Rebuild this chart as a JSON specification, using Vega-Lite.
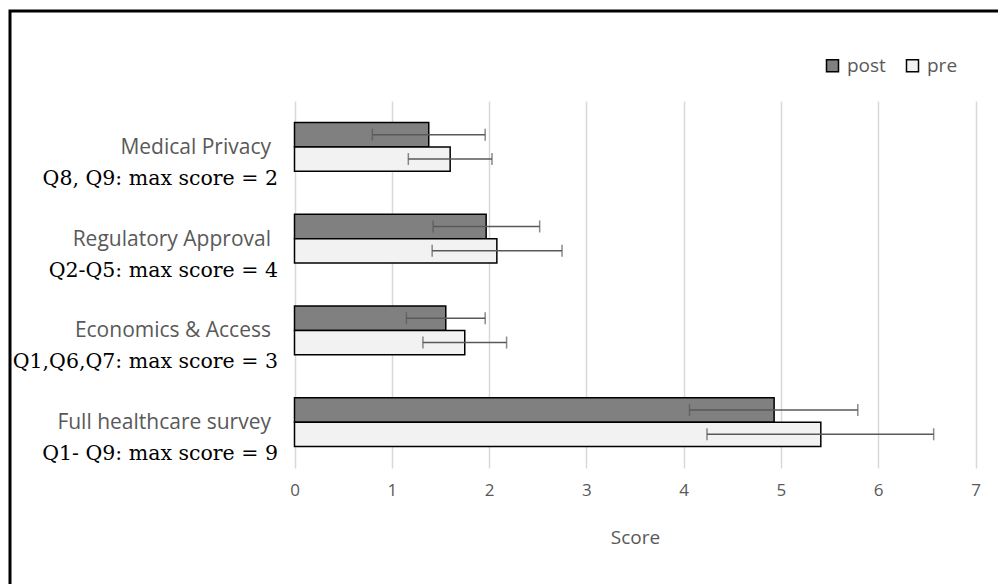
{
  "$schema": "https://vega.github.io/schema/vega-lite/v6.json",
  "autosize": {"type": "none"},
  "padding": {"left": 10, "top": 11, "right": -6, "bottom": -6},
  "width": 994,
  "height": 579,
  "background": "white",
  "config": {
    "view": {"stroke": "black", "strokeWidth": 3},
    "font": "Open Sans"
  },
  "data": {
    "values": [
      {"category": "Medical Privacy", "group": "post", "mean": 1.38, "lo": 0.80, "hi": 1.96},
      {"category": "Medical Privacy", "group": "pre", "mean": 1.60, "lo": 1.17, "hi": 2.03},
      {"category": "Regulatory Approval", "group": "post", "mean": 1.97, "lo": 1.425, "hi": 2.52},
      {"category": "Regulatory Approval", "group": "pre", "mean": 2.08, "lo": 1.415, "hi": 2.75},
      {"category": "Economics & Access", "group": "post", "mean": 1.555, "lo": 1.15, "hi": 1.96},
      {"category": "Economics & Access", "group": "pre", "mean": 1.75, "lo": 1.32, "hi": 2.18},
      {"category": "Full healthcare survey", "group": "post", "mean": 4.93, "lo": 4.06, "hi": 5.79},
      {"category": "Full healthcare survey", "group": "pre", "mean": 5.41, "lo": 4.24, "hi": 6.57}
    ]
  },
  "layer": [
    {
      "mark": {"type": "bar", "stroke": "black", "strokeWidth": 1.5},
      "encoding": {
        "x": {
          "field": "mean", "type": "quantitative", "title": "Score",
          "scale": {"domain": [0, 7], "nice": false, "zero": true, "range": [284.5, 965.5]},
          "axis": {
            "orient": "bottom", "zindex": 0,
            "titleFont": "Open Sans", "titleFontSize": 19, "titleFontWeight": "normal",
            "titleColor": "#595959", "titlePadding": 30,
            "labelFont": "Open Sans", "labelFontSize": 17, "labelColor": "#595959", "labelPadding": 14,
            "domain": false, "ticks": false, "tickSize": 0, "offset": -122, "grid": false,
            "values": [0, 1, 2, 3, 4, 5, 6, 7], "labelFlush": false, "labelOverlap": false
          }
        },
        "y": {
          "field": "category", "type": "nominal", "sort": null,
          "scale": {"range": [90, 457], "paddingInner": 0.47, "paddingOuter": 0.235},
          "axis": {
            "title": null, "orient": "left", "domain": false, "ticks": false, "tickSize": 0, "offset": -284.5,
            "labelFont": "Open Sans", "labelFontSize": 21, "labelColor": "#595959", "labelPadding": 24,
            "labelLimit": 300, "labelOverlap": false, "labelBaseline": "middle", "labelOffset": 1, "grid": false
          }
        },
        "yOffset": {"field": "group", "type": "nominal", "sort": ["post", "pre"], "scale": {"paddingInner": 0, "paddingOuter": 0}},
        "fill": {
          "field": "group", "type": "nominal", "sort": ["post", "pre"],
          "scale": {"domain": ["post", "pre"], "range": ["#808080", "#f2f2f2"]},
          "legend": {
            "orient": "none", "legendX": 813, "legendY": 45, "direction": "horizontal", "title": null,
            "symbolType": "square", "symbolSize": 144, "symbolStrokeColor": "black", "symbolStrokeWidth": 1.5,
            "symbolOpacity": 1, "labelFont": "Open Sans", "labelFontSize": 19, "labelColor": "#595959",
            "labelOffset": 5, "columnPadding": 17, "padding": 0
          }
        }
      }
    },
    {
      "mark": {"type": "rule", "color": "#595959", "strokeWidth": 1.5},
      "encoding": {
        "x": {
          "field": "lo", "type": "quantitative", "title": "Score",
          "axis": {
            "orient": "top", "zindex": 0, "title": null, "labels": false, "domain": false, "grid": false,
            "ticks": true, "tickSize": -367, "tickColor": "#d9d9d9", "tickWidth": 1.5, "offset": -90,
            "values": [0, 1, 2, 3, 4, 5, 6, 7]
          }
        },
        "x2": {"field": "hi"},
        "y": {
          "field": "category", "type": "nominal", "sort": null,
          "axis": {
            "title": null, "orient": "left", "domain": false, "ticks": false, "tickSize": 0, "offset": -284.5,
            "labelFont": "DejaVu Serif", "labelFontSize": 20.5, "labelColor": "black", "labelPadding": 17,
            "labelOffset": 32, "labelLimit": 400, "labelOverlap": false, "labelBaseline": "middle", "grid": false,
            "labelExpr": "datum.value == 'Medical Privacy' ? 'Q8, Q9: max score = 2' : datum.value == 'Regulatory Approval' ? 'Q2-Q5: max score = 4' : datum.value == 'Economics & Access' ? 'Q1,Q6,Q7: max score = 3' : 'Q1- Q9: max score = 9'"
          }
        },
        "yOffset": {"field": "group", "type": "nominal", "sort": ["post", "pre"]}
      }
    },
    {
      "mark": {"type": "tick", "color": "#595959", "thickness": 1.5, "size": 12, "orient": "vertical"},
      "encoding": {
        "x": {"field": "lo", "type": "quantitative", "axis": null},
        "y": {"field": "category", "type": "nominal", "sort": null, "axis": null},
        "yOffset": {"field": "group", "type": "nominal", "sort": ["post", "pre"]}
      }
    },
    {
      "mark": {"type": "tick", "color": "#595959", "thickness": 1.5, "size": 12, "orient": "vertical"},
      "encoding": {
        "x": {"field": "hi", "type": "quantitative", "axis": null},
        "y": {"field": "category", "type": "nominal", "sort": null, "axis": null},
        "yOffset": {"field": "group", "type": "nominal", "sort": ["post", "pre"]}
      }
    }
  ],
  "resolve": {"axis": {"y": "independent", "x": "independent"}}
}
